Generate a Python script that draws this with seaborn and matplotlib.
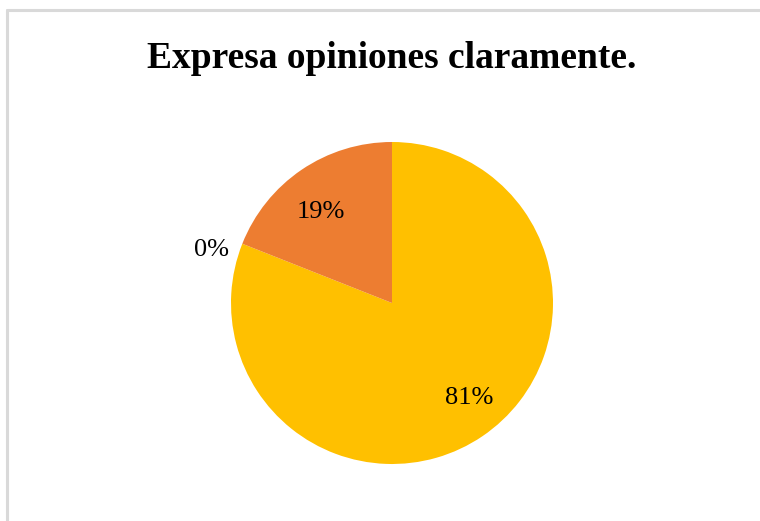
import matplotlib
matplotlib.use("Agg")
import matplotlib.pyplot as plt
import seaborn as sns
import numpy as np
from matplotlib.lines import Line2D

categories = ["Siempre", "Nunca", "A veces"]
values = [81, 0, 19]
pct_labels = ["81%", "0%", "19%"]
colors = ["#FFC000", "#4472C4", "#ED7D31"]
title = "Expresa opiniones claramente."

sns.set_theme(style="white")
plt.rcParams['font.family'] = ['Liberation Serif', 'DejaVu Serif']

W, H = 760, 521
fig = plt.figure(figsize=(W / 100, H / 100), dpi=100)
fig.patch.set_facecolor("white")

# frame lines (top and left, light gray)
fig.add_artist(Line2D([7 / W, 1], [1 - 10 / H, 1 - 10 / H], color="#D9D9D9", lw=2.2, transform=fig.transFigure))
fig.add_artist(Line2D([7 / W, 7 / W], [0, 1 - 10 / H], color="#D9D9D9", lw=2.2, transform=fig.transFigure))

cx, cy, r = 392, 303, 161
ax = fig.add_axes([(cx - r) / W, (H - cy - r) / H, 2 * r / W, 2 * r / H])
wedges, _ = ax.pie(values, colors=colors, startangle=90, counterclock=False,
                   radius=1, wedgeprops=dict(linewidth=0))
ax.set_xlim(-1, 1)
ax.set_ylim(-1, 1)
ax.set_aspect("equal")
ax.axis("off")

# label placement (distance from centre, angle offset from slice middle)
label_style = {"81%": (0.745, 5.7), "19%": (0.727, 3.1), "0%": (1.17, 4.6)}
for w, lab, v in zip(wedges, pct_labels, values):
    mid = (w.theta1 + w.theta2) / 2
    d, off = label_style[lab]
    ang = np.deg2rad(mid + off)
    ax.text(d * np.cos(ang), d * np.sin(ang), lab, ha="center", va="center_baseline",
            fontsize=19, color="#000000")

fig.text(392 / W, 1 - 59 / H, title, ha="center", va="center",
         fontsize=27, fontweight="bold", color="#000000")

fig.savefig("out.png", dpi=100, facecolor="white")
